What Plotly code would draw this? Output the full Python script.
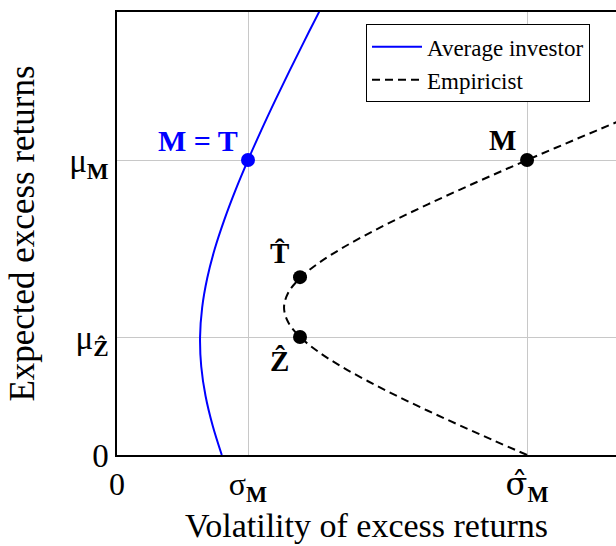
import plotly.graph_objects as go

# Average investor frontier (volatility, expected excess return)
avg_mu = [0.0, 0.1, 0.2, 0.3, 0.4, 0.5, 0.6, 0.7, 0.8, 0.9, 1.0, 1.1, 1.2, 1.3, 1.4, 1.5, 1.55]
avg_sigma = [0.800, 0.730, 0.676, 0.643, 0.634, 0.650, 0.689, 0.747, 0.821, 0.906, 1.000, 1.100, 1.205, 1.314, 1.426, 1.540, 1.598]

# Empiricist frontier
emp_mu = [0.0, 0.05, 0.1, 0.15, 0.2, 0.25, 0.3, 0.35, 0.4, 0.45, 0.5, 0.55, 0.6, 0.65,
          0.7, 0.75, 0.8, 0.85, 0.9, 0.95, 1.0, 1.05, 1.1, 1.15]
emp_sigma = [3.130, 2.872, 2.619, 2.373, 2.138, 1.916, 1.713, 1.537, 1.398, 1.307, 1.275, 1.307,
             1.398, 1.537, 1.713, 1.916, 2.138, 2.373, 2.619, 2.872, 3.130, 3.394, 3.660, 3.930]

# Special points
pt_mt = (1.0, 1.0)
black_pts_sigma = [3.13, 1.397, 1.397]
black_pts_mu = [1.0, 0.603, 0.4]

x_tickvals = [0, 1.0, 3.13]
x_ticktext = ["0", "σ<sub><b>M</b></sub>",
              "<span style=\"font-family:'DejaVu Serif'\">σ\u0302</span><sub><b>M</b></sub>"]
y_tickvals = [0, 0.4, 1.0]
y_ticktext = ["0", "μ<sub><b>\u1E90</b></sub>", "μ<sub><b>M</b></sub>"]

FONT = "Liberation Serif"

fig = go.Figure()
fig.add_trace(go.Scatter(x=avg_sigma, y=avg_mu, mode="lines", name="Average investor",
                         line=dict(color="#0000ff", width=2, shape="spline")))
fig.add_trace(go.Scatter(x=emp_sigma, y=emp_mu, mode="lines", name="Empiricist",
                         line=dict(color="black", width=2, dash="8px,5px", shape="spline")))
fig.add_trace(go.Scatter(x=[pt_mt[0]], y=[pt_mt[1]], mode="markers", showlegend=False,
                         marker=dict(color="#0000ff", size=14)))
fig.add_trace(go.Scatter(x=black_pts_sigma, y=black_pts_mu, mode="markers", showlegend=False,
                         marker=dict(color="black", size=14)))

fig.add_annotation(x=0.94, y=1.068, text="<b>M = T</b>", showarrow=False, xanchor="right",
                   font=dict(family=FONT, size=30, color="#0000ff"))
fig.add_annotation(x=2.94, y=1.068, text="<b>M</b>", showarrow=False,
                   font=dict(family=FONT, size=29, color="black"))
fig.add_annotation(x=1.244, y=0.685, text="<b>T\u0302</b>", showarrow=False,
                   font=dict(family=FONT, size=29, color="black"))
fig.add_annotation(x=1.244, y=0.32, text="<b>\u1E90</b>", showarrow=False,
                   font=dict(family=FONT, size=29, color="black"))

fig.update_layout(
    width=616, height=546,
    margin=dict(l=117, r=0, t=12, b=91),
    paper_bgcolor="white", plot_bgcolor="white",
    font=dict(family=FONT, size=30, color="black"),
    showlegend=True,
    legend=dict(x=0.499, y=0.972, xanchor="left", yanchor="top",
                bordercolor="black", borderwidth=1, bgcolor="white", itemwidth=50,
                font=dict(family=FONT, size=23), tracegroupgap=0),
    xaxis=dict(range=[0, 3.809], tickmode="array", tickvals=x_tickvals, ticktext=x_ticktext,
               showgrid=True, gridcolor="#c8c8c8", gridwidth=1, zeroline=False,
               showline=True, linecolor="black", linewidth=1.5, mirror=True, ticks="",
               tickfont=dict(family=FONT, size=32),
               title=dict(text="Volatility of excess returns", font=dict(family=FONT, size=34), standoff=4)),
    yaxis=dict(range=[0, 1.502], tickmode="array", tickvals=y_tickvals, ticktext=y_ticktext,
               showgrid=True, gridcolor="#c8c8c8", gridwidth=1, zeroline=False,
               showline=True, linecolor="black", linewidth=1.5, ticks="",
               tickfont=dict(family=FONT, size=33),
               title=dict(text="Expected excess returns", font=dict(family=FONT, size=35), standoff=24)),
)

fig.write_html("out.html")
